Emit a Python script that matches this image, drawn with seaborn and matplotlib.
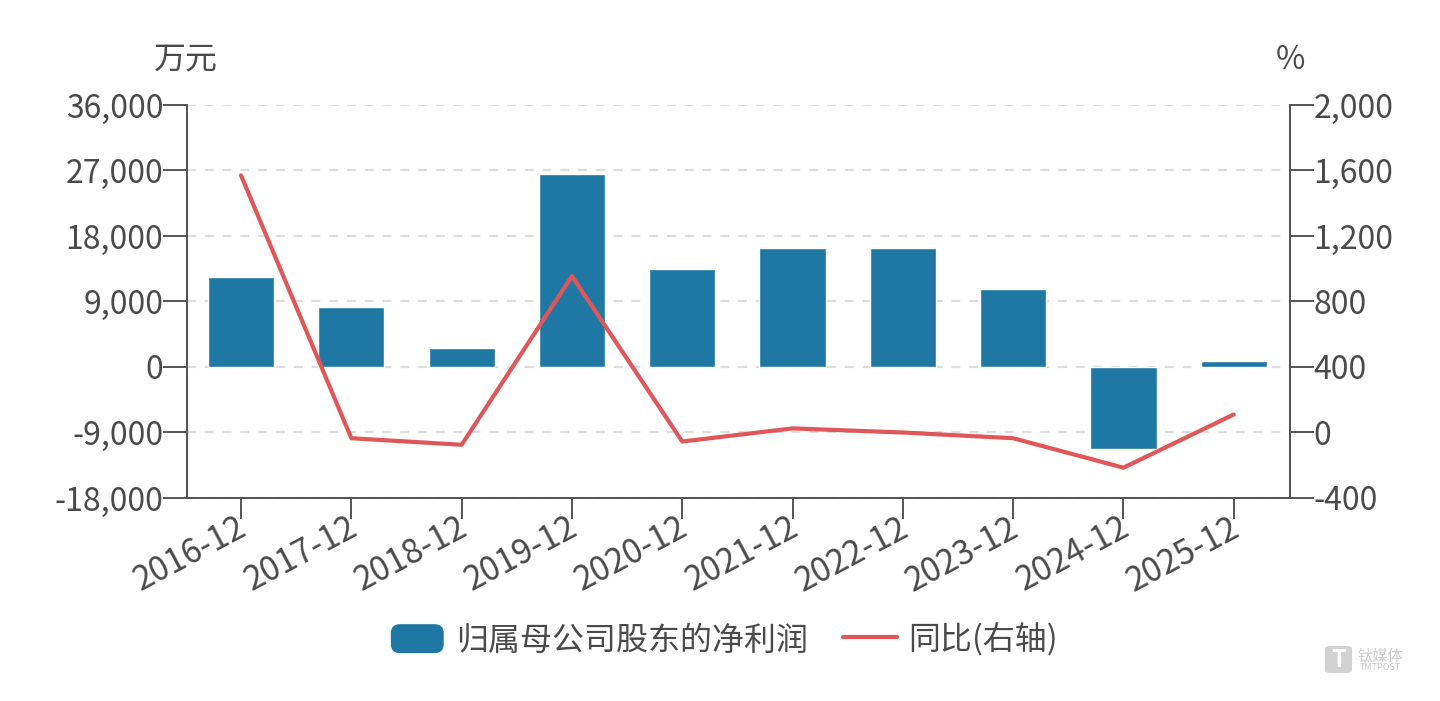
import matplotlib
matplotlib.use("Agg")
import matplotlib.pyplot as plt
from matplotlib.patches import FancyBboxPatch, Rectangle
from matplotlib.lines import Line2D
from matplotlib.legend_handler import HandlerPatch
from matplotlib.transforms import ScaledTranslation
import seaborn as sns
import pandas as pd

categories = ["2016-12","2017-12","2018-12","2019-12","2020-12","2021-12","2022-12","2023-12","2024-12","2025-12"]
profit = [12300, 8200, 2650, 26500, 13450, 16300, 16350, 10700, -11300, 800]
yoy = [1570, -35, -75, 955, -55, 25, 0, -35, -215, 110]
left_ticks = [-18000,-9000,0,9000,18000,27000,36000]
right_ticks = [-400,0,400,800,1200,1600,2000]

sns.set_theme(style="white")
plt.rcParams['font.family'] = ['Noto Sans CJK SC', 'DejaVu Sans']
TXT = "#4a4a4a"; AX = "#555555"; BAR = "#1f77a4"; LINE = "#e15759"

fig = plt.figure(figsize=(14.4, 7.01), dpi=100)
ax = fig.add_axes([187/1440, 1-498/701, (1290-187)/1440, (498-105)/701])
df = pd.DataFrame({"cat": categories, "profit": profit, "yoy": yoy})
sns.barplot(data=df, x="cat", y="profit", color=BAR, saturation=1, width=0.6, ax=ax, zorder=3)
ax.set_xlim(-0.49, 9.51)
ax.set_ylim(-18000, 36000)
ax.set_yticks(left_ticks)
ax.set_yticklabels([f"{v:,}" for v in left_ticks], fontsize=23, color=TXT)
ax.set_xlabel(""); ax.set_ylabel("")
ax.yaxis.grid(True, color="#dddddd", linestyle=(0, (4, 4)), linewidth=1.6)
ax.set_axisbelow(True)
ax.set_xticks(range(10))
ax.set_xticklabels(categories, rotation=28, ha="right", rotation_mode="anchor", fontsize=24, color=TXT)
ax.tick_params(axis="x", bottom=True, length=15, width=1.4, color=AX, pad=-4)
ax.tick_params(axis="y", left=True, length=17, width=1.4, color=AX, pad=0)
for lab in ax.get_xticklabels():
    lab.set_transform(lab.get_transform() + ScaledTranslation(-5/100, 3/100, fig.dpi_scale_trans))
for s in ax.spines.values():
    s.set_color(AX); s.set_linewidth(1.4)
ax.spines["top"].set_visible(False)

ax2 = ax.twinx()
sns.lineplot(data=df, x="cat", y="yoy", color=LINE, linewidth=3.0, ax=ax2, sort=False, zorder=5)
ax2.set_ylim(-400, 2000)
ax2.set_yticks(right_ticks)
ax2.set_yticklabels([f"{v:,}" for v in right_ticks], fontsize=23, color=TXT)
ax2.set_xlabel(""); ax2.set_ylabel("")
ax2.tick_params(axis="y", right=True, length=17, width=1.4, color=AX, pad=0)
ax2.tick_params(axis="x", bottom=False, labelbottom=False)
for s in ax2.spines.values():
    s.set_color(AX); s.set_linewidth(1.4)
ax2.spines["top"].set_visible(False)
ax2.grid(False)

fig.text(186/1440, 1-60/701, "万元", fontsize=23, color=TXT, ha="center", va="center")
fig.text(1290/1440, 1-60/701, "%", fontsize=23, color=TXT, ha="center", va="center")


def rounded(legend, orig_handle, xdescent, ydescent, width, height, fontsize):
    return FancyBboxPatch((-xdescent + 6, -ydescent + 5), width - 12, height - 10,
                          boxstyle="round,pad=5,rounding_size=6", mutation_aspect=1,
                          facecolor=BAR, edgecolor="none")


h1 = Rectangle((0, 0), 1, 1, color=BAR)
h2 = Line2D([0], [0], color=LINE, linewidth=3.0)
fig.legend([h1, h2], ["归属母公司股东的净利润", "同比(右轴)"], loc="center",
           bbox_to_anchor=(724/1440, 1-640/701), ncol=2, frameon=False, fontsize=23,
           labelcolor=TXT, handlelength=1.7, handleheight=0.95, columnspacing=1.1,
           handletextpad=0.35, handler_map={Rectangle: HandlerPatch(patch_func=rounded)})

fig.add_artist(FancyBboxPatch((1325/1440, 1-673/701), 27/1440, 27/701,
                              boxstyle="round,pad=0,rounding_size=0.004",
                              transform=fig.transFigure, facecolor="#d2d2d2", edgecolor="none"))
fig.text(1339/1440, 1-660/701, "T", fontsize=17, fontweight="bold", color="white", ha="center", va="center")
fig.text(1380/1440, 1-656/701, "钛媒体", fontsize=11, color="#cccccc", ha="center", va="center")
fig.text(1380/1440, 1-668/701, "TMTPOST", fontsize=6.5, color="#cccccc", ha="center", va="center")
fig.savefig("out.png", dpi=100)
